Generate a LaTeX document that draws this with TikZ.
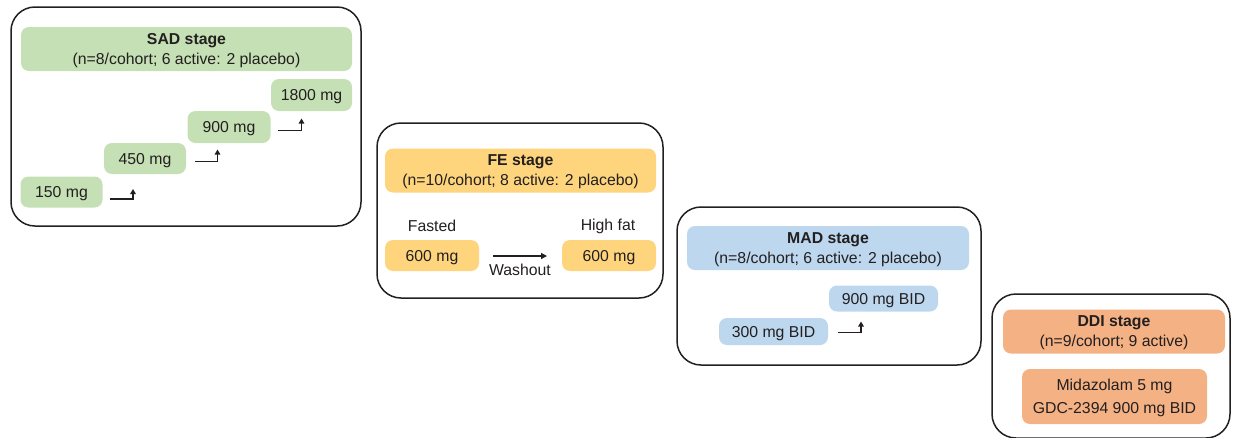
\documentclass[tikz,border=0pt]{standalone}
\usepackage{fontspec}
\setmainfont{Liberation Sans}
\usetikzlibrary{arrows.meta}
\definecolor{ink}{HTML}{231F20}
\definecolor{sadgreen}{HTML}{C5E0B4}
\definecolor{feyellow}{HTML}{FED57D}
\definecolor{madblue}{HTML}{BDD7EE}
\definecolor{ddiorange}{HTML}{F4B183}
\tikzset{
  txt/.style={font=\fontsize{15.8}{20}\selectfont, text=ink},
  dims/.style args={#1 by #2}{minimum width=#1, minimum height=#2},
  stageframe/.style={draw=ink, line width=1.5pt, rounded corners=24pt, inner sep=0pt},
  fillbox/.style={fill=#1, rounded corners=8pt, inner sep=0pt, txt, align=center,
    text depth=0pt},
  headbox/.style={fillbox=#1, text depth=-3pt},
  stepup/.style={draw=ink, line width=1.3pt, -{Triangle[length=5pt,width=5.5pt]}},
  washarrow/.style={draw=ink, line width=1.3pt, -{Triangle[length=6pt,width=6pt]}},
}
\begin{document}
\begin{tikzpicture}[x=1pt, y=-1pt]
\useasboundingbox (0,0) rectangle (1236,437);
\clip (0,0) rectangle (1236,437);

% ---------- SAD stage ----------
\node[stageframe, dims=350pt by 219pt] (sadframe) at (186,116.5) {};
\node[headbox=sadgreen, dims=331pt by 44pt] (sadhead) at (186.5,49)
  {\textbf{SAD stage}\\(n=8/cohort; 6 active: 2 placebo)};
\node[fillbox=sadgreen, dims=82pt by 31pt] (s150) at (61.5,192) {150 mg};
\node[fillbox=sadgreen, dims=82pt by 31pt] (s450) at (145,158.5) {450 mg};
\node[fillbox=sadgreen, dims=83pt by 32pt] (s900) at (229,127) {900 mg};
\node[fillbox=sadgreen, dims=81pt by 32pt] (s1800) at (311.5,95) {1800 mg};

\coordinate (a1s) at (110,199);   \coordinate (a1e) at (133,189);
\coordinate (a2s) at (195,161.5); \coordinate (a2e) at (217.5,149.5);
\coordinate (a3s) at (278,130.5); \coordinate (a3e) at (301.5,118.5);
\draw[stepup] (a1s) -| (a1e);
\draw[stepup] (a2s) -| (a2e);
\draw[stepup] (a3s) -| (a3e);

% ---------- FE stage ----------
\node[stageframe, dims=286pt by 175pt] (feframe) at (520,210.5) {};
\node[headbox=feyellow, dims=271pt by 44pt] (fehead) at (520.5,170.5)
  {\textbf{FE stage}\\(n=10/cohort; 8 active: 2 placebo)};
\node[fillbox=feyellow, dims=94pt by 31pt] (fasted) at (432,255.5) {600 mg};
\node[fillbox=feyellow, dims=94pt by 31pt] (highfat) at (609,255.5) {600 mg};
\node[txt] (fastedlbl) at (432,226) {Fasted};
\node[txt] (highfatlbl) at (608,226) {High fat};
\coordinate (ws) at (493,256);
\coordinate (we) at (547,256);
\draw[washarrow] (ws) -- (we);
\node[txt] (washlbl) at (520,269.5) {Washout};

% ---------- MAD stage ----------
\node[stageframe, dims=304pt by 158pt] (madframe) at (829,286) {};
\node[headbox=madblue, dims=282pt by 44pt] (madhead) at (828,248)
  {\textbf{MAD stage}\\(n=8/cohort; 6 active: 2 placebo)};
\node[fillbox=madblue, dims=109pt by 26pt] (m900) at (883.5,298.5) {900 mg BID};
\node[fillbox=madblue, dims=109pt by 27pt] (m300) at (773.5,331.5) {300 mg BID};
\coordinate (a4s) at (838,332.5); \coordinate (a4e) at (861,321.5);
\draw[stepup] (a4s) -| (a4e);

% ---------- DDI stage ----------
\node[stageframe, dims=238pt by 144pt] (ddiframe) at (1111,366) {};
\node[headbox=ddiorange, dims=222pt by 44pt] (ddihead) at (1114,331.5)
  {\textbf{DDI stage}\\(n=9/cohort; 9 active)};
\node[fillbox=ddiorange, dims=185pt by 55pt, font=\fontsize{15.8}{23}\selectfont] (ddidose) at (1114.5,396.5)
  {Midazolam 5 mg\\GDC-2394 900 mg BID};
\end{tikzpicture}
\end{document}
